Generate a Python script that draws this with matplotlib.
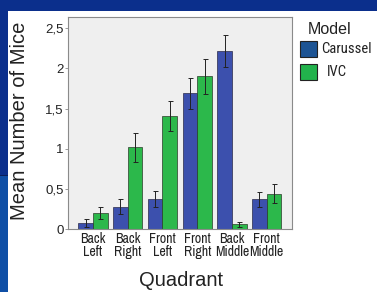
import matplotlib
matplotlib.use("Agg")
import matplotlib.pyplot as plt
from matplotlib.patches import Rectangle
import numpy as np

categories = ["Back\nLeft", "Back\nRight", "Front\nLeft", "Front\nRight", "Back\nMiddle", "Front\nMiddle"]
carussel = [0.07, 0.28, 0.37, 1.69, 2.22, 0.37]
carussel_err = [0.05, 0.09, 0.10, 0.19, 0.20, 0.09]
ivc = [0.20, 1.02, 1.41, 1.90, 0.06, 0.44]
ivc_err = [0.07, 0.18, 0.19, 0.22, 0.03, 0.12]
yticks = [0, 0.5, 1, 1.5, 2, 2.5]
yticklabels = ["0", "0,5", "1", "1,5", "2", "2,5"]

NARROW = ['Archivo Narrow', 'Roboto Condensed', 'Liberation Sans', 'DejaVu Sans']
plt.rcParams['font.family'] = ['Liberation Sans', 'DejaVu Sans']
W, H = 377, 292
fig = plt.figure(figsize=(W/100, H/100), dpi=100)
fig.patch.set_facecolor('#0b2f8c')
fig.add_artist(Rectangle((8/W, 0), 1, (H-11)/H, transform=fig.transFigure,
                         facecolor='white', edgecolor='none', zorder=0))
fig.add_artist(Rectangle((0, 0), 8/W, (H-175)/H, transform=fig.transFigure,
                         facecolor='#0f4fa6', edgecolor='none', zorder=0))
fig.add_artist(Rectangle((0, (H-175.5)/H), 8/W, 1/H, transform=fig.transFigure,
                         facecolor='#0a1f5a', edgecolor='none', zorder=0))

ax = fig.add_axes([67.7/W, (H-229)/H, (292-67.7)/W, (229-17)/H])
ax.set_facecolor('#efefef')
for s in ax.spines.values():
    s.set_color('#8a8a8a')
    s.set_linewidth(0.8)

x = np.arange(len(categories))
w = 0.42
blue = '#3c50ad'
green = '#2cb84b'
ax.bar(x - w/2, carussel, w, color=blue, edgecolor='#2a2a4a', linewidth=0.5,
       yerr=carussel_err, error_kw=dict(ecolor='#222222', elinewidth=0.7, capsize=1.8, capthick=0.7))
ax.bar(x + w/2, ivc, w, color=green, edgecolor='#2a3a2a', linewidth=0.5,
       yerr=ivc_err, error_kw=dict(ecolor='#222222', elinewidth=0.7, capsize=1.8, capthick=0.7))

ax.set_xlim(-0.73, 5.73)
ax.set_ylim(0, 2.64)
ax.set_yticks(yticks)
ax.set_yticklabels(yticklabels, fontsize=9.5)
ax.set_xticks(x)
ax.set_xticklabels(categories, fontsize=10, linespacing=0.9, family=NARROW)
ax.tick_params(axis='y', length=2, width=0.6, color='#888888', pad=1, labelcolor='#222222')
ax.tick_params(axis='x', length=0, pad=2, labelcolor='#222222')

fig.text(20/W, 1 - 121/H, "Mean Number of Mice", fontsize=14.5, color='#222222',
         rotation=90, ha='center', va='center')
fig.text(181.5/W, 1 - 281/H, "Quadrant", fontsize=14.5, color='#222222',
         ha='center', va='center')

# legend
fig.text(308/W, 1 - 30/H, "Model", fontsize=11.5, color='#222222', va='center', ha='left')
fig.add_artist(Rectangle((300/W, 1 - 57/H), 16.5/W, 16.5/H, transform=fig.transFigure,
                         facecolor='#1d5494', edgecolor='#222222', linewidth=0.8))
fig.add_artist(Rectangle((300/W, 1 - 80/H), 16.5/W, 16.5/H, transform=fig.transFigure,
                         facecolor='#22b24c', edgecolor='#222222', linewidth=0.8))
fig.text(321/W, 1 - 49/H, "Carussel", fontsize=10.5, color='#222222', va='center', ha='left',
         family=['Roboto Condensed', 'Liberation Sans', 'DejaVu Sans'])
fig.text(327/W, 1 - 72/H, "IVC", fontsize=10.5, color='#222222', va='center', ha='left',
         family=['Roboto Condensed', 'Liberation Sans', 'DejaVu Sans'])

fig.savefig("out.png", dpi=100, facecolor=fig.get_facecolor())
